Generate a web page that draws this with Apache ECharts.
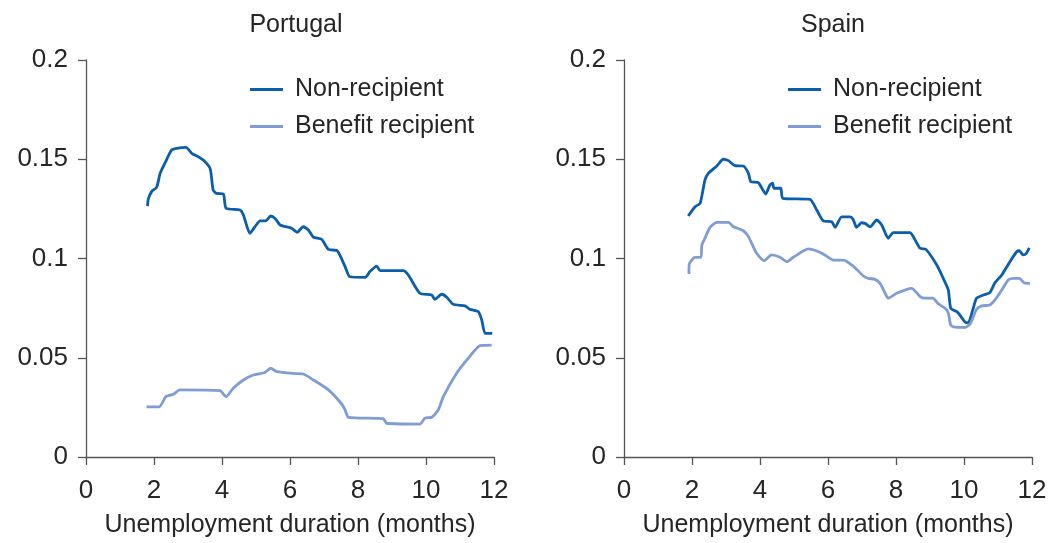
<!DOCTYPE html>
<html>
<head>
<meta charset="utf-8">
<script src="https://cdn.jsdelivr.net/npm/echarts@6/dist/echarts.min.js"></script>
<style>
html,body{margin:0;padding:0;background:#fff;}
#chart{width:1051px;height:543px;}
</style>
</head>
<body>
<div id="chart"></div>
<script>
// ---- Data (months, rate) ----
var ptNonX = [1.81,1.83,1.93,2.08,2.18,2.32,2.52,2.67,2.94,3.11,3.30,3.45,3.65,3.74,3.84,4.04,4.12,4.53,4.63,4.82,4.97,5.12,5.29,5.43,5.56,5.71,6.05,6.21,6.39,6.54,6.69,6.93,7.13,7.39,7.62,7.76,8.21,8.35,8.55,8.65,9.33,9.48,9.82,10.17,10.26,10.46,10.61,10.80,11.15,11.29,11.54,11.64,11.74,11.95];
var ptNonY = [0.1264,0.1298,0.1337,0.1359,0.1429,0.148,0.1547,0.1555,0.156,0.153,0.1513,0.1496,0.1454,0.1345,0.1328,0.1325,0.1253,0.1244,0.1219,0.1127,0.116,0.119,0.119,0.1214,0.1202,0.1169,0.1152,0.1132,0.116,0.1144,0.1107,0.1097,0.1046,0.1039,0.0959,0.0908,0.0905,0.0934,0.0962,0.0939,0.0939,0.0917,0.0825,0.0816,0.0794,0.082,0.0805,0.0769,0.0761,0.0744,0.0732,0.069,0.0623,0.0623];

var ptBenX = [1.78,2.15,2.35,2.57,2.76,3.94,4.12,4.33,4.63,4.92,5.26,5.43,5.61,6.2,6.39,6.69,7.13,7.52,7.62,7.72,8.74,8.84,9.82,9.97,10.17,10.36,10.51,10.90,11.24,11.59,11.93];
var ptBenY = [0.0253,0.0253,0.0304,0.0316,0.0338,0.0334,0.0304,0.0346,0.0388,0.0413,0.0426,0.0447,0.043,0.042,0.0418,0.0388,0.0338,0.0267,0.0237,0.02,0.0193,0.017,0.0166,0.0196,0.02,0.0237,0.0304,0.0422,0.0497,0.0561,0.0564];

var esNonX = [1.89,2.09,2.24,2.38,2.48,2.73,2.92,3.07,3.26,3.51,3.66,3.73,3.95,4.17,4.29,4.37,4.41,4.61,4.67,5.47,5.67,5.86,6.11,6.21,6.4,6.65,6.74,6.84,6.99,7.09,7.24,7.43,7.58,7.77,7.92,8.41,8.51,8.71,8.88,9.2,9.39,9.54,9.61,9.79,9.88,10.06,10.13,10.27,10.37,10.57,10.76,10.91,11.11,11.35,11.55,11.63,11.74,11.82,11.92];
var esNonY = [0.1214,0.1261,0.1278,0.1395,0.1429,0.1466,0.15,0.1493,0.1468,0.1466,0.1429,0.1387,0.1382,0.1325,0.137,0.1379,0.1354,0.1354,0.1303,0.1298,0.1244,0.119,0.1185,0.1157,0.121,0.121,0.1197,0.1157,0.118,0.1177,0.116,0.1194,0.1169,0.1102,0.113,0.113,0.111,0.1051,0.1046,0.0967,0.09,0.0841,0.0749,0.0732,0.0715,0.0677,0.0677,0.0749,0.08,0.0816,0.0828,0.0878,0.0917,0.0984,0.1034,0.1039,0.1018,0.1023,0.1054];

var esBenX = [1.91,1.92,2.09,2.26,2.29,2.38,2.53,2.73,3.07,3.22,3.51,3.66,3.90,4.12,4.34,4.59,4.79,4.98,5.42,5.67,5.86,6.16,6.45,6.74,7.04,7.19,7.38,7.53,7.68,7.77,8.02,8.46,8.71,8.85,9.08,9.25,9.47,9.54,9.61,9.69,10.03,10.18,10.37,10.52,10.76,10.91,11.11,11.3,11.45,11.63,11.76,11.94];
var esBenY = [0.0922,0.0972,0.1006,0.1006,0.1068,0.1102,0.1157,0.1182,0.1182,0.116,0.114,0.111,0.1026,0.0989,0.1018,0.1006,0.0984,0.1006,0.1048,0.1038,0.1023,0.0992,0.0992,0.0962,0.0912,0.09,0.0895,0.0875,0.0825,0.08,0.0825,0.085,0.0808,0.08,0.08,0.0771,0.0746,0.0724,0.0665,0.0656,0.0653,0.067,0.0744,0.0761,0.0766,0.0791,0.0841,0.0892,0.09,0.09,0.0878,0.0875];

var panelTitles = ['Portugal', 'Spain'];
var seriesNames = ['Non-recipient', 'Benefit recipient'];
var xAxisName = 'Unemployment duration (months)';

function pairs(xs, ys){ return xs.map(function(x,i){ return [x, ys[i]]; }); }

var FONT = '"Liberation Sans", Arial, sans-serif';
var TXT = '#262626';
var DARK = '#0b5eab';
var LIGHT = '#7f9dd4';
var FS = 25;
var TFS = 26;

function xAx(gi){
  return {
    gridIndex: gi, type: 'value', min: 0, max: 12, interval: 2,
    name: xAxisName, nameLocation: 'middle', nameGap: 56,
    nameTextStyle: {fontFamily: FONT, fontSize: FS, color: TXT},
    axisLine: {show: true, onZero: false, lineStyle: {color: '#555', width: 1.3}},
    axisTick: {show: true, length: 8, lineStyle: {color: '#555', width: 1.3}},
    axisLabel: {fontFamily: FONT, fontSize: TFS, color: TXT, margin: 21},
    splitLine: {show: false}
  };
}
function yAx(gi){
  return {
    gridIndex: gi, type: 'value', min: 0, max: 0.2, interval: 0.05,
    axisLine: {show: true, onZero: false, lineStyle: {color: '#555', width: 1.3}},
    axisTick: {show: true, length: 8, lineStyle: {color: '#555', width: 1.3}},
    axisLabel: {fontFamily: FONT, fontSize: TFS, color: TXT, margin: 18},
    splitLine: {show: false}
  };
}
function line(name, gi, data, color){
  return {
    name: name, type: 'line', xAxisIndex: gi, yAxisIndex: gi,
    data: data, showSymbol: false, symbol: 'none', smooth: 0.2,
    lineStyle: {color: color, width: 2.8}, itemStyle: {color: color},
    animation: false
  };
}
function legend(left){
  return {
    orient: 'vertical', left: left, top: 72, itemGap: 12,
    icon: 'rect', itemWidth: 33, itemHeight: 3,
    data: seriesNames,
    textStyle: {fontFamily: FONT, fontSize: FS, color: TXT, padding: [0,0,0,7]},
    selectedMode: false
  };
}

var chart = echarts.init(document.getElementById('chart'), null, {renderer: 'canvas'});
chart.setOption({
  backgroundColor: '#fff',
  animation: false,
  title: [
    {text: panelTitles[0], left: 291, top: 8, textAlign: 'center', textStyle: {fontFamily: FONT, fontSize: FS, fontWeight: 'normal', color: TXT}},
    {text: panelTitles[1], left: 828, top: 8, textAlign: 'center', textStyle: {fontFamily: FONT, fontSize: FS, fontWeight: 'normal', color: TXT}}
  ],
  legend: [legend(245), legend(783)],
  grid: [
    {left: 86, right: 557, top: 60, bottom: 86},
    {left: 624, right: 19, top: 60, bottom: 86}
  ],
  xAxis: [xAx(0), xAx(1)],
  yAxis: [yAx(0), yAx(1)],
  series: [
    line(seriesNames[0], 0, pairs(ptNonX, ptNonY), DARK),
    line(seriesNames[1], 0, pairs(ptBenX, ptBenY), LIGHT),
    line(seriesNames[0], 1, pairs(esNonX, esNonY), DARK),
    line(seriesNames[1], 1, pairs(esBenX, esBenY), LIGHT)
  ]
});
</script>
</body>
</html>
